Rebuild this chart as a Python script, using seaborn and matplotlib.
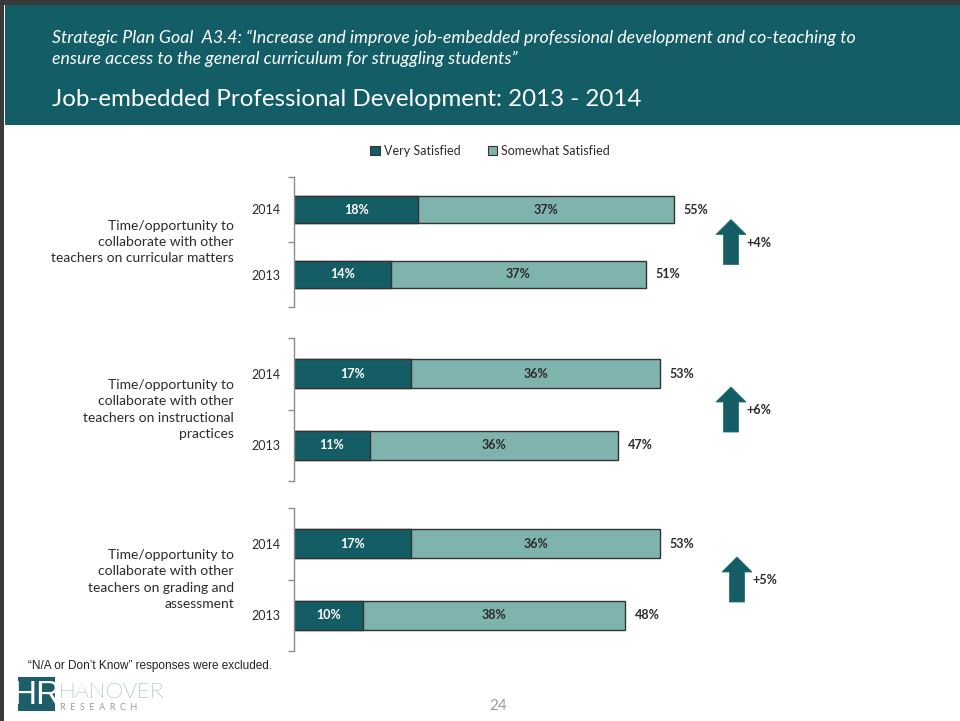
import matplotlib
matplotlib.use("Agg")
import matplotlib.pyplot as plt
from matplotlib.patches import Rectangle, Polygon, Patch
import seaborn as sns
import pandas as pd

# ---------------- data ----------------
items = [
    "Time/opportunity to\ncollaborate with other\nteachers on curricular matters",
    "Time/opportunity to\ncollaborate with other\nteachers on instructional\npractices",
    "Time/opportunity to\ncollaborate with other\nteachers on grading and\nassessment",
]
years = ["2014", "2013"]
very_satisfied = [[18, 14], [17, 11], [17, 10]]
somewhat_satisfied = [[37, 37], [36, 36], [36, 38]]
series_names = ["Very Satisfied", "Somewhat Satisfied"]

title = "Job-embedded Professional Development: 2013 - 2014"
subtitle = ("Strategic Plan Goal  A3.4: \u201cIncrease and improve job-embedded professional development and co-teaching to\n"
            "ensure access to the general curriculum for struggling students\u201d")
footnote = "\u201cN/A or Don\u2019t Know\u201d responses were excluded."
page_no = "24"

# ---------------- style ----------------
DARK = "#145D65"
LIGHT = "#7FB4AE"
TXT = "#2B2B2B"
EDGE = "#333333"
AXC = "#8C8C8C"

sns.set_theme(style="white")
plt.rcParams["font.family"] = ["Lato", "DejaVu Sans"]

W, H = 960, 721
fig = plt.figure(figsize=(W / 100, H / 100), dpi=100)
fig.patch.set_facecolor("white")

# axes boxes in pixels (top, bottom)
X0, PX_PER_PCT = 294, 6.9
XMAX = 80
boxes = [(177, 307), (338, 481), (508, 651)]
arrow_cx = [731, 731, 737]

def px_ax(top, bottom):
    return fig.add_axes([X0 / W, 1 - bottom / H, XMAX * PX_PER_PCT / W, (bottom - top) / H])

axes = []
for i, (top, bot) in enumerate(boxes):
    ax = px_ax(top, bot)
    axes.append(ax)
    df = pd.DataFrame({
        "year": years,
        "very": very_satisfied[i],
        "some": somewhat_satisfied[i],
    })
    df["total"] = df["very"] + df["some"]
    sns.barplot(data=df, y="year", x="total", order=years, orient="h", color=LIGHT,
                saturation=1, width=0.41, edgecolor=EDGE, linewidth=1.0,
                errorbar=None, ax=ax)
    sns.barplot(data=df, y="year", x="very", order=years, orient="h", color=DARK,
                saturation=1, width=0.41, edgecolor=EDGE, linewidth=1.0,
                errorbar=None, ax=ax)
    ax.set_xlim(0, XMAX)
    ax.set_ylim(1.5, -0.5)
    ax.set_xlabel("")
    ax.set_ylabel("")
    ax.set_xticks([])
    ax.set_facecolor("none")
    for s in ["top", "right", "bottom"]:
        ax.spines[s].set_visible(False)
    ax.spines["left"].set_color(AXC)
    ax.spines["left"].set_linewidth(1.0)
    ax.set_yticks([0, 1])
    ax.set_yticklabels(years, fontsize=9, color=TXT)
    ax.tick_params(axis="y", which="major", length=0, pad=10)
    ax.set_yticks([-0.5, 0.5, 1.5], minor=True)
    ax.tick_params(axis="y", which="minor", length=4, width=1, color=AXC, left=True)

    for j, row in df.iterrows():
        ax.text(row["very"] / 2, j, f"{row['very']}%", ha="center", va="center",
                color="white", fontsize=9, fontweight="bold")
        ax.text(row["very"] + row["some"] / 2, j, f"{row['some']}%", ha="center", va="center",
                color=TXT, fontsize=9, fontweight="bold")
        ax.text(row["total"] + 10 / PX_PER_PCT, j, f"{row['total']}%", ha="left", va="center",
                color=TXT, fontsize=9, fontweight="bold")

# ---------------- overlay in pixel coords ----------------
ov = fig.add_axes([0, 0, 1, 1])
ov.set_xlim(0, W)
ov.set_ylim(H, 0)
ov.axis("off")

# borders and header
ov.add_patch(Rectangle((0, 0), W, 5, color="#3A3A3A", lw=0))
ov.add_patch(Rectangle((0, 0), 4, H, color="#3A3A3A", lw=0))
ov.add_patch(Rectangle((5, 5), W - 5, 120, color="#135E66", lw=0))
ov.text(52, 38, subtitle.split("\n")[0], ha="left", va="center", color="white",
        fontsize=12.8, style="italic")
ov.text(52, 59, subtitle.split("\n")[1], ha="left", va="center", color="white",
        fontsize=12.8, style="italic")
ov.text(52, 99, title, ha="left", va="center", color="white", fontsize=17.4)

# legend
handles = [Patch(facecolor=DARK, edgecolor=EDGE, lw=0.8), Patch(facecolor=LIGHT, edgecolor=EDGE, lw=0.8)]
fig.legend(handles, series_names, loc="center", bbox_to_anchor=(490 / W, 1 - 151 / H),
           ncol=2, frameon=False, fontsize=9, handlelength=0.75, handleheight=0.75,
           handletextpad=0.3, columnspacing=2.2, labelcolor=TXT)

# item labels
for i, (top, bot) in enumerate(boxes):
    mid = (top + bot) / 2
    ov.text(234, mid, items[i], ha="right", va="center", color=TXT, fontsize=10,
            linespacing=1.45)
    # arrow
    cx = arrow_cx[i]
    t, b = mid - 22.5, mid + 22.5
    hw, sw, hl = 15, 7.5, 15
    pts = [(cx, t), (cx + hw, t + hl), (cx + sw, t + hl), (cx + sw, b),
           (cx - sw, b), (cx - sw, t + hl), (cx - hw, t + hl)]
    ov.add_patch(Polygon(pts, closed=True, facecolor=DARK, edgecolor="#2E6E75", lw=0.6))
    change = (very_satisfied[i][0] + somewhat_satisfied[i][0]) - (very_satisfied[i][1] + somewhat_satisfied[i][1])
    ov.text(cx + 15, mid + 1, f"{change:+d}%", ha="left", va="center", color=TXT,
            fontsize=9, fontweight="bold")

# footnote
ov.text(28, 666, footnote, ha="left", va="center", color="#222222", fontsize=8.5,
        family="Liberation Sans")

# logo
ov.add_patch(Rectangle((18, 677), 37, 34, color="#1E5E68", lw=0))
ov.text(36.5, 695, "HR", ha="center", va="center", color="white", fontsize=24,
        fontweight="light", family="Liberation Sans")
ov.text(58, 692, "HANOVER", ha="left", va="center", color="#1E5E68", fontsize=16,
        fontweight="light")
ov.text(60, 708, "R  E  S  E  A  R  C  H", ha="left", va="center", color="#9A9A9A",
        fontsize=6.5)
ov.text(498, 706, page_no, ha="center", va="center", color="#9A9A9A", fontsize=11)

fig.savefig("out.png", dpi=100)
